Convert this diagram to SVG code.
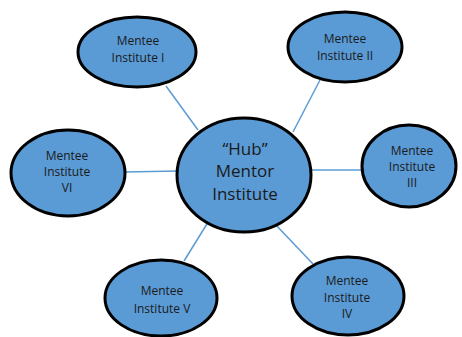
<svg xmlns="http://www.w3.org/2000/svg" width="462" height="337" viewBox="0 0 462 337">
<style>
.n{fill:#5b9bd5;stroke:#000;stroke-width:3}
.t{font-family:"Open Sans","Liberation Sans",sans-serif;font-size:12px;fill:#1a1a1a;text-anchor:middle}
.h{font-family:"Open Sans","Liberation Sans",sans-serif;font-size:17px;fill:#1a1a1a;text-anchor:middle}
.c{stroke:#5b9bd5;stroke-width:1.5;fill:none}
</style>
<rect width="462" height="337" fill="#fff"/>
<g id="connectors">
<line class="c" x1="166" y1="86" x2="198" y2="130"/>
<line class="c" x1="320" y1="80" x2="293" y2="132"/>
<line class="c" x1="362" y1="170" x2="310" y2="170"/>
<line class="c" x1="124" y1="172" x2="178" y2="171"/>
<line class="c" x1="184" y1="261" x2="210" y2="219"/>
<line class="c" x1="313" y1="264" x2="275" y2="224"/>
</g>
<g id="hub">
<ellipse class="n" cx="244" cy="175" rx="67" ry="57"/>
<text class="h" x="245" y="155">“Hub”</text>
<text class="h" x="245" y="177">Mentor</text>
<text class="h" x="245" y="200">Institute</text>
</g>
<g id="mentee1">
<ellipse class="n" cx="137" cy="52" rx="59" ry="35"/>
<text class="t" x="138" y="45">Mentee</text>
<text class="t" x="138" y="62">Institute I</text>
</g>
<g id="mentee2">
<ellipse class="n" cx="345" cy="47" rx="57" ry="35"/>
<text class="t" x="345" y="43">Mentee</text>
<text class="t" x="345" y="60">Institute II</text>
</g>
<g id="mentee3">
<ellipse class="n" cx="409" cy="166" rx="47" ry="41"/>
<text class="t" x="412" y="155">Mentee</text>
<text class="t" x="412" y="171">Institute</text>
<text class="t" x="412" y="187">III</text>
</g>
<g id="mentee4">
<ellipse class="n" cx="348" cy="296" rx="56" ry="39"/>
<text class="t" x="347" y="285">Mentee</text>
<text class="t" x="347" y="302">Institute</text>
<text class="t" x="347" y="318">IV</text>
</g>
<g id="mentee5">
<ellipse class="n" cx="161" cy="298" rx="56" ry="38"/>
<text class="t" x="162" y="295">Mentee</text>
<text class="t" x="162" y="313">Institute V</text>
</g>
<g id="mentee6">
<ellipse class="n" cx="68" cy="173" rx="57" ry="43"/>
<text class="t" x="67" y="160">Mentee</text>
<text class="t" x="67" y="176">Institute</text>
<text class="t" x="67" y="192">VI</text>
</g>
</svg>
